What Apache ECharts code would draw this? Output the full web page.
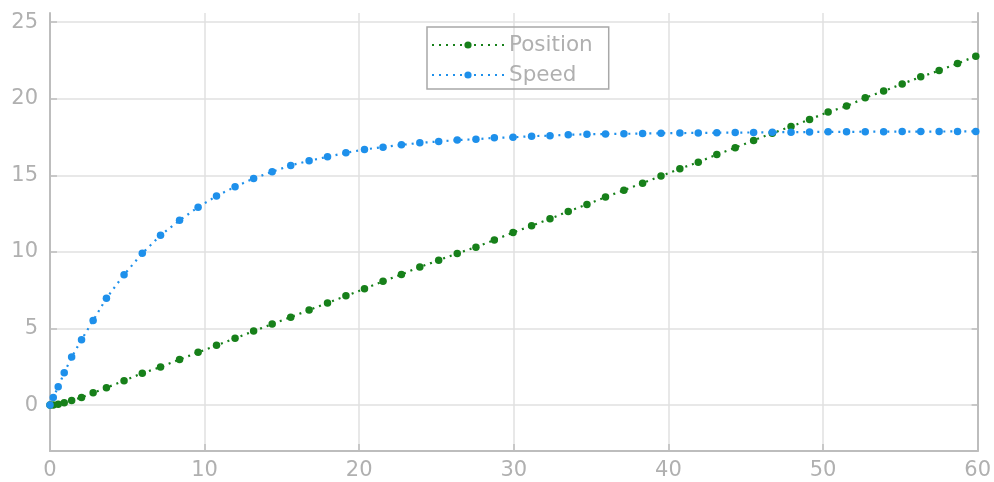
<!DOCTYPE html>
<html>
<head>
<meta charset="utf-8">
<script src="https://cdn.jsdelivr.net/npm/echarts@6/dist/echarts.min.js"></script>
<style>
  html, body { margin: 0; padding: 0; background: #ffffff; }
  #chart { width: 994px; height: 482px; }
</style>
</head>
<body>
<div id="chart"></div>
<script>
// Sample times (solver steps), position and speed at each step
const time = [0, 0.21, 0.53, 0.92, 1.40, 2.04, 2.79, 3.65, 4.79, 5.97, 7.15, 8.38, 9.58,
  10.77, 11.97, 13.17, 14.37, 15.57, 16.76, 17.95, 19.14, 20.34, 21.54, 22.73, 23.92,
  25.14, 26.34, 27.55, 28.74, 29.95, 31.15, 32.34, 33.52, 34.73, 35.93, 37.12, 38.33,
  39.52, 40.74, 41.93, 43.13, 44.32, 45.51, 46.72, 47.93, 49.13, 50.33, 51.52, 52.73,
  53.92, 55.12, 56.32, 57.51, 58.70, 59.88];

const position = [0, 0.0, 0.05, 0.15, 0.30, 0.50, 0.80, 1.13, 1.59, 2.08, 2.48, 2.98, 3.44,
  3.90, 4.36, 4.83, 5.29, 5.74, 6.20, 6.67, 7.13, 7.59, 8.08, 8.53, 9.01,
  9.46, 9.90, 10.31, 10.77, 11.27, 11.70, 12.16, 12.64, 13.10, 13.58, 14.03, 14.49,
  14.95, 15.43, 15.86, 16.36, 16.80, 17.28, 17.75, 18.19, 18.65, 19.13, 19.52, 20.06,
  20.50, 20.97, 21.43, 21.84, 22.30, 22.78];

const speed = [0, 0.50, 1.19, 2.11, 3.13, 4.27, 5.52, 6.98, 8.51, 9.91, 11.08, 12.06, 12.92,
  13.65, 14.25, 14.80, 15.23, 15.65, 15.95, 16.21, 16.47, 16.69, 16.84, 16.99, 17.12,
  17.21, 17.30, 17.36, 17.45, 17.48, 17.56, 17.59, 17.65, 17.68, 17.70, 17.71, 17.73,
  17.75, 17.76, 17.77, 17.78, 17.79, 17.80, 17.81, 17.82, 17.83, 17.84, 17.84, 17.85,
  17.85, 17.86, 17.86, 17.86, 17.87, 17.87];

const yTicks = [0, 5, 10, 15, 20, 25];
const seriesNames = ['Position', 'Speed'];

const textGray = '#b0b0b0';
const axisGray = '#bdbdbd';
const gridGray = '#e0e0e0';
const font = 'DejaVu Sans';

function pairs(xs, ys) {
  return xs.map((x, i) => [x, ys[i]]);
}

const yRange = { min: -3, max: 25.6 };

const chart = echarts.init(document.getElementById('chart'), null, { renderer: 'canvas' });

chart.setOption({
  animation: false,
  backgroundColor: '#ffffff',
  grid: { left: 50, right: 13, top: 13, bottom: 31, containLabel: false },
  legend: {
    orient: 'vertical',
    left: 427,
    top: 27,
    data: seriesNames,
    itemWidth: 72,
    itemHeight: 9,
    itemGap: 8,
    padding: [7, 16, 3, 4],
    borderColor: '#a8a8a8',
    borderWidth: 1.5,
    textStyle: { color: textGray, fontSize: 21.5, fontFamily: font, padding: [0, 0, 0, 0] }
  },
  xAxis: {
    type: 'value',
    min: 0,
    max: 60,
    interval: 10,
    axisLine: { show: true, onZero: false, lineStyle: { color: axisGray, width: 2 } },
    axisTick: { show: true, inside: true, length: 7, lineStyle: { color: axisGray, width: 1.5 } },
    axisLabel: { color: textGray, fontSize: 21, fontFamily: font, margin: 9 },
    splitLine: { show: true, lineStyle: { color: gridGray, width: 1.5 } }
  },
  yAxis: [
    {
      type: 'value',
      position: 'left',
      min: yRange.min,
      max: yRange.max,
      axisLine: { show: true, onZero: false, lineStyle: { color: axisGray, width: 2 } },
      axisTick: { show: true, inside: true, length: 7, customValues: yTicks,
                  lineStyle: { color: axisGray, width: 1.5 } },
      axisLabel: { color: textGray, fontSize: 21, fontFamily: font, margin: 12, customValues: yTicks },
      splitLine: { show: true, lineStyle: { color: gridGray, width: 1.5 } }
    },
    {
      type: 'value',
      position: 'right',
      min: yRange.min,
      max: yRange.max,
      axisLine: { show: true, onZero: false, lineStyle: { color: axisGray, width: 2 } },
      axisTick: { show: true, inside: true, length: 6, customValues: yTicks,
                  lineStyle: { color: axisGray, width: 1.5 } },
      axisLabel: { show: false },
      splitLine: { show: false }
    }
  ],
  series: [
    {
      name: seriesNames[0],
      type: 'line',
      yAxisIndex: 0,
      data: pairs(time, position),
      symbol: 'circle',
      symbolSize: 7.5,
      showAllSymbol: true,
      itemStyle: { color: '#17801a' },
      lineStyle: { color: '#17801a', width: 2.2, type: [2, 5] },
      z: 3
    },
    {
      name: seriesNames[1],
      type: 'line',
      yAxisIndex: 0,
      data: pairs(time, speed),
      symbol: 'circle',
      symbolSize: 7.5,
      showAllSymbol: true,
      itemStyle: { color: '#1e90eb' },
      lineStyle: { color: '#1e90eb', width: 2.2, type: [2, 5] },
      z: 4
    }
  ]
});
</script>
</body>
</html>
